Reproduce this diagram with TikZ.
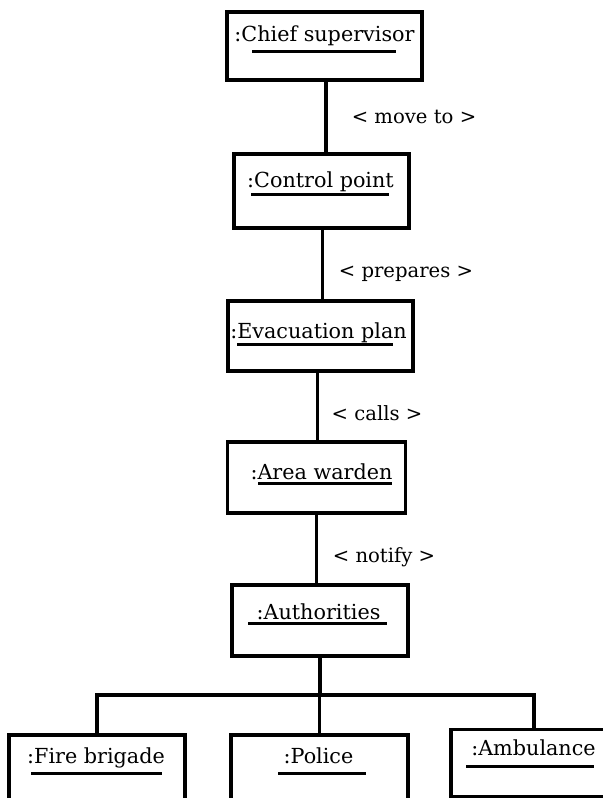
\documentclass[tikz,border=0pt]{standalone}
\usepackage{fontspec}
\setmainfont{DejaVu Serif}
\begin{document}
\begin{tikzpicture}[x=1bp,y=-1bp,
  box/.style={draw=black,line width=3.4bp,fill=white,inner sep=0pt,rectangle},
  conn/.style={draw=black,line width=3.4bp},
  uline/.style={draw=black,line width=3bp},
  ttl/.style={inner sep=0pt,anchor=base,font=\fontsize{20.8}{24}\selectfont},
  lbl/.style={inner sep=0pt,anchor=base,font=\fontsize{19.7}{24}\selectfont}]
\useasboundingbox (0,0) rectangle (603,798);
\fill[white] (0,0) rectangle (603,798);
\clip (0,0) rectangle (603,798);
% boxes
\node[box,minimum width=195bp,minimum height=68bp] (chief) at (324.5,46) {};
\node[box,minimum width=175bp,minimum height=74bp] (control) at (321.5,191) {};
\node[box,minimum width=185bp,minimum height=70bp] (evac) at (320.5,336) {};
\node[box,minimum width=178bp,minimum height=71bp] (area) at (316.5,477.5) {};
\node[box,minimum width=176bp,minimum height=71bp] (auth) at (320,620.5) {};
\node[box,minimum width=176bp,minimum height=120bp] (fire) at (97,795) {};
\node[box,minimum width=177bp,minimum height=120bp] (police) at (319.5,795) {};
\node[box,minimum width=166bp,minimum height=67bp] (amb) at (534,763) {};
% titles
\node[ttl] (chieft) at (324.5,42) {:Chief supervisor};
\node[ttl] (controlt) at (320.5,187) {:Control point};
\node[ttl] (evact) at (318.5,338) {:Evacuation plan};
\node[ttl] (areat) at (321.5,479) {:Area warden};
\node[ttl] (autht) at (318.5,619) {:Authorities};
\node[ttl] (firet) at (96,763) {:Fire brigade};
\node[ttl] (policet) at (318.5,763) {:Police};
\node[ttl] (ambt) at (533.5,755) {:Ambulance};
% underlines
\draw[uline] (252,52) -- (396,52);
\draw[uline] (251,194) -- (389,194);
\draw[uline] (237,344) -- (393,344);
\draw[uline] (258,483) -- (392,483);
\draw[uline] (248,623) -- (387,623);
\draw[uline] (31,773) -- (162,773);
\draw[uline] (278,773) -- (366,773);
\draw[uline] (466,766) -- (594,766);
% connectors
\coordinate (bar) at (320,695);
\draw[conn] ([xshift=1.5bp]chief.south) -- ([xshift=1.5bp]chief.south |- control.north);
\draw[conn] ([xshift=1bp]control.south) -- ([xshift=1bp]control.south |- evac.north);
\draw[conn] ([xshift=1bp]area.north |- evac.south) -- ([xshift=1bp]area.north);
\draw[conn] (area.south) -- (area.south |- auth.north);
\draw[conn] (auth.south) -- (auth.south |- bar);
\draw[conn] (fire.north) |- (bar) -| (amb.north);
\draw[conn] (police.north) -- (police.north |- bar);
% labels
\node[lbl] (l1) at (414,123) {< move to >};
\node[lbl] (l2) at (406,277) {< prepares >};
\node[lbl] (l3) at (377,420) {< calls >};
\node[lbl] (l4) at (384,562) {< notify >};
\end{tikzpicture}
\end{document}
